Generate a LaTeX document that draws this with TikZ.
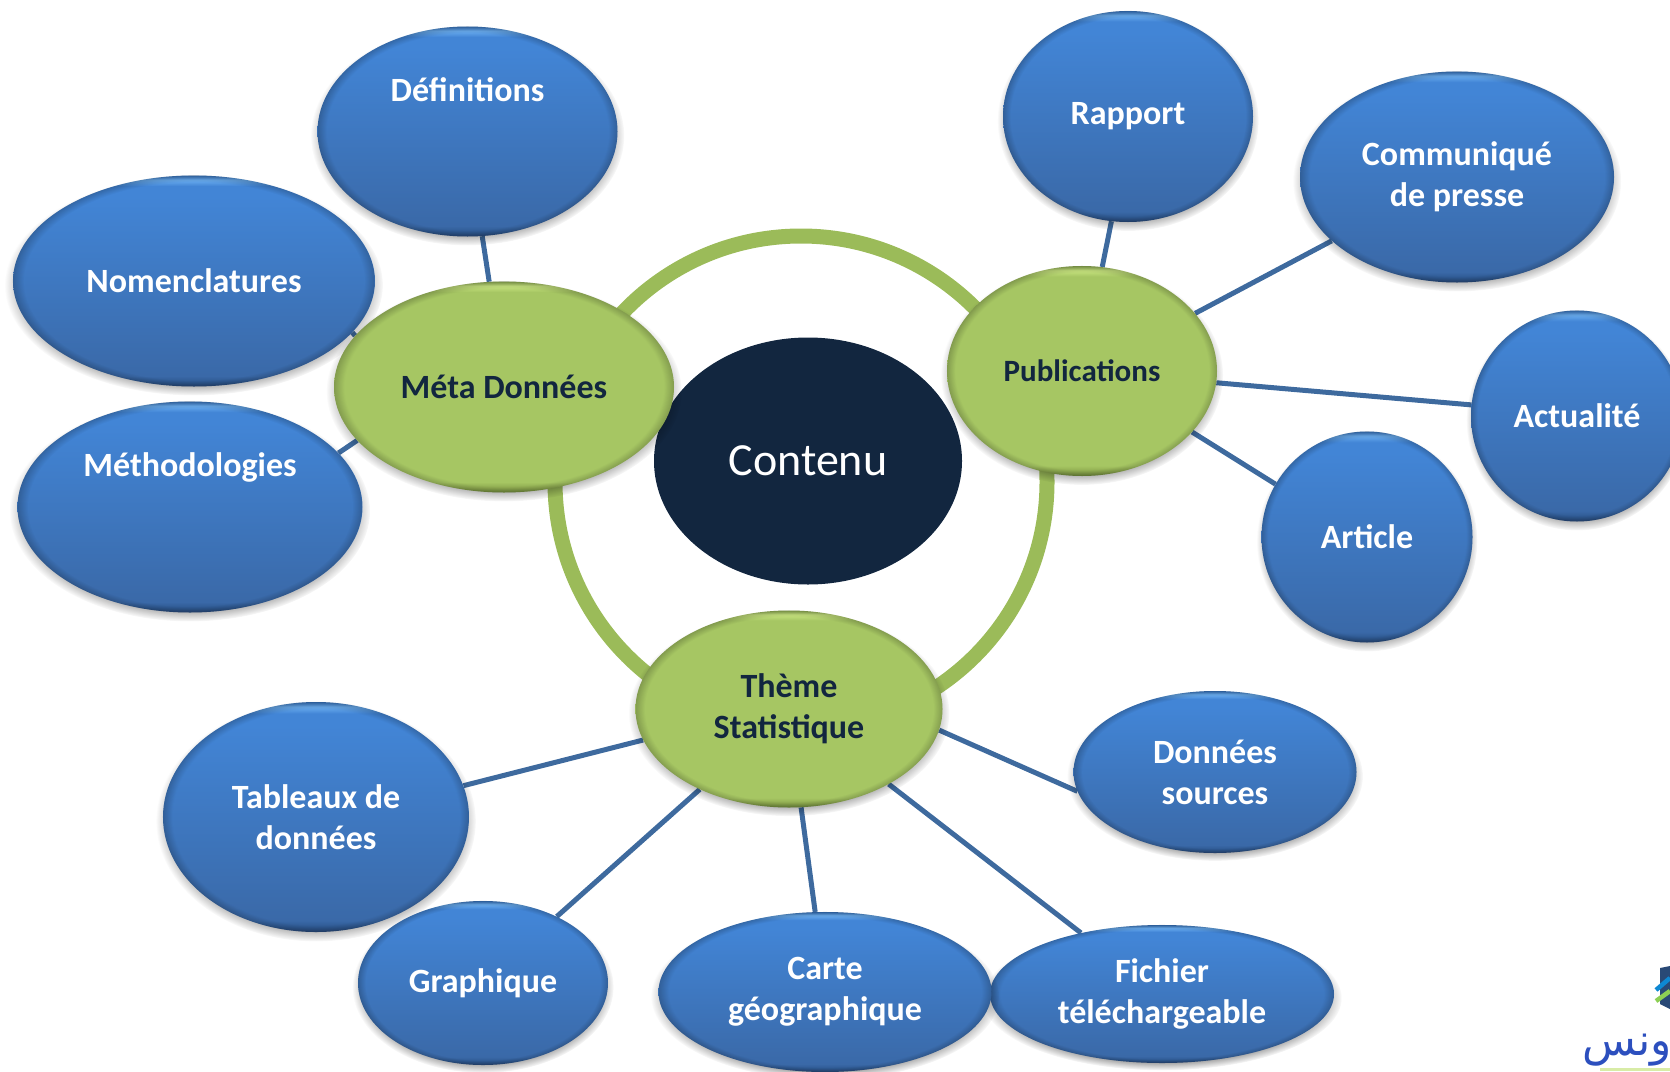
\documentclass[tikz,border=0pt]{standalone}
\usepackage{fontspec}
\setmainfont{Carlito}
\newfontfamily\arabicfont[Script=Arabic]{DejaVu Sans}
\TeXXeTstate=1
\usetikzlibrary{shapes.geometric,shadows,fadings}
\definecolor{navy}{HTML}{12263F}
\definecolor{linkblue}{HTML}{3E6A9E}
\definecolor{ringgreen}{HTML}{9BBB59}
\definecolor{HTMLbd}{HTML}{28497A}
\definecolor{HTMLbm}{HTML}{2F5A93}
\definecolor{HTMLb1}{HTML}{3A69A8}
\definecolor{HTMLb2}{HTML}{4285D6}
\definecolor{HTMLb3}{HTML}{6BAEF0}
\definecolor{HTMLb4}{HTML}{3A78C4}
\definecolor{HTMLgd}{HTML}{6F8A3C}
\definecolor{HTMLgm}{HTML}{8FAB50}
\definecolor{HTMLg1}{HTML}{A6C663}
\definecolor{HTMLg3}{HTML}{C8E480}
\definecolor{HTMLg4}{HTML}{94B356}
\pgfdeclareverticalshading{blueball}{100bp}{
  color(0bp)=(HTMLbd);
  color(25bp)=(HTMLbd);
  color(26.2bp)=(HTMLbm);
  color(27.5bp)=(HTMLb1);
  color(70bp)=(HTMLb2);
  color(72.5bp)=(HTMLb2);
  color(74bp)=(HTMLb3);
  color(75bp)=(HTMLb4);
  color(100bp)=(HTMLb4)}
\pgfdeclareverticalshading{greenball}{100bp}{
  color(0bp)=(HTMLgd);
  color(25bp)=(HTMLgd);
  color(26.2bp)=(HTMLgm);
  color(27.5bp)=(HTMLg1);
  color(72.5bp)=(HTMLg1);
  color(74bp)=(HTMLg3);
  color(75bp)=(HTMLg4);
  color(100bp)=(HTMLg4)}
\pgfdeclareradialshading{rimshade}{\pgfpointorigin}{
  color(0bp)=(pgftransparent!100);
  color(23.4bp)=(pgftransparent!100);
  color(25bp)=(pgftransparent!0);
  color(50bp)=(pgftransparent!0)}
\pgfdeclarefading{rimfade}{\pgfuseshading{rimshade}}
\pgfdeclareradialshading{softshade}{\pgfpointorigin}{
  color(0bp)=(pgftransparent!0);
  color(22bp)=(pgftransparent!0);
  color(25bp)=(pgftransparent!100);
  color(50bp)=(pgftransparent!100)}
\pgfdeclarefading{softfade}{\pgfuseshading{softshade}}
\pgfdeclarelayer{background}
\pgfsetlayers{background,main}
\newcommand{\upby}[2]{\smash{\raisebox{#1}{#2}}}
\tikzset{
  bubble/.style={ellipse,inner sep=0pt,align=center,font=\fontsize{34}{41}\selectfont\bfseries,
    general shadow={shadow yshift=-4pt,shadow scale=1.045,fill=black,opacity=.38,path fading=softfade},
    postaction={fill=black,fill opacity=.22,path fading=rimfade}},
  bluebub/.style={bubble,shading=blueball,text=white},
  greenbub/.style={bubble,shading=greenball,text=navy},
  link/.style={draw=linkblue,line width=5pt},
}
\begin{document}
\begin{tikzpicture}[x=1pt,y=-1pt]
\useasboundingbox (0,0) rectangle (1670,1071);
\clip (0,0) rectangle (1670,1071);
\node[circle,draw=ringgreen,line width=15pt,minimum size=492pt,inner sep=0pt] (ring) at (801,482) {};
% blue satellites
\node[bluebub,minimum width=300pt,minimum height=210pt] (def) at (467.5,131.5) {\upby{30pt}{Définitions}};
\node[bluebub,minimum width=362pt,minimum height=211pt] (nom) at (194,281) {Nomenclatures};
\node[bluebub,minimum width=345pt,minimum height=211pt] (met) at (190,507) {\upby{31pt}{Méthodologies}};
\node[bluebub,minimum width=250pt,minimum height=211pt] (rap) at (1128,116.5) {Rapport};
\node[bluebub,minimum width=314pt,minimum height=211pt] (com) at (1457,177) {Communiqué\\de presse};
\node[bluebub,minimum width=212pt,minimum height=211pt] (act) at (1577,416) {Actualité};
\node[bluebub,minimum width=211pt,minimum height=211pt] (art) at (1367,537) {Article};
\node[bluebub,minimum width=283pt,minimum height=162pt] (don) at (1215,772) {Données\\sources};
\node[bluebub,minimum width=306pt,minimum height=230pt] (tab) at (316,817) {Tableaux de\\données};
\node[bluebub,minimum width=250pt,minimum height=164pt] (gra) at (483,983) {Graphique};
\node[bluebub,minimum width=344pt,minimum height=138pt] (fic) at (1162,994) {Fichier\\téléchargeable};
\node[bluebub,minimum width=333pt,minimum height=160pt] (car) at (825,992) {Carte\\géographique};
% centre
\node[ellipse,fill=navy,text=white,inner sep=0pt,minimum width=308pt,minimum height=247pt,font=\fontsize{46}{55}\selectfont] (con) at (808,461) {Contenu};
% green hubs
\node[greenbub,minimum width=340pt,minimum height=211pt] (mta) at (504,387) {Méta Données};
\node[greenbub,minimum width=270pt,minimum height=210pt,font=\fontsize{31}{38}\selectfont\bfseries] (pub) at (1082,371) {Publications};
\node[greenbub,minimum width=307pt,minimum height=197pt] (the) at (789,709) {Thème\\Statistique};
% connectors
\begin{pgfonlayer}{background}
\draw[link] (def.-82.6) -- (mta.98);
\draw[link] (nom.-18) -- (mta.161);
\draw[link] (met.20.4) -- (mta.200.5);
\draw[link] (rap.-99.7) -- (pub.79.5);
\draw[link] (com.207) -- (pub.27);
\draw[link] (act.174.5) -- (pub.-5);
\draw[link] (art.150) -- (pub.-29.4);
\draw[link] (the.-8.3) -- (don.188);
\draw[link] (the.-37.4) -- (fic.143);
\draw[link] (the.-83) -- (car.97.3);
\draw[link] (the.222) -- (gra.42.5);
\draw[link] (the.192) -- (tab.12.6);
\end{pgfonlayer}
% logo fragment
\fill[HTMLb1!70!black] (1660,968) -- (1670,966) -- (1670,1009) -- (1660,1004) -- cycle;
\draw[cyan!70!blue,line width=4.5pt] (1656,990) -- (1670,978);
\draw[HTMLg1!85!green,line width=4.5pt] (1656,1001) -- (1670,991);
\node[anchor=east,inner sep=0pt,text=HTMLb1!75!blue,font=\arabicfont\fontsize{44}{50}\selectfont] (logotext) at (1672,1050) {\beginR ونس\endR};
\fill[HTMLg3!70!white] (1600,1068) rectangle (1670,1071);
\end{tikzpicture}
\end{document}
